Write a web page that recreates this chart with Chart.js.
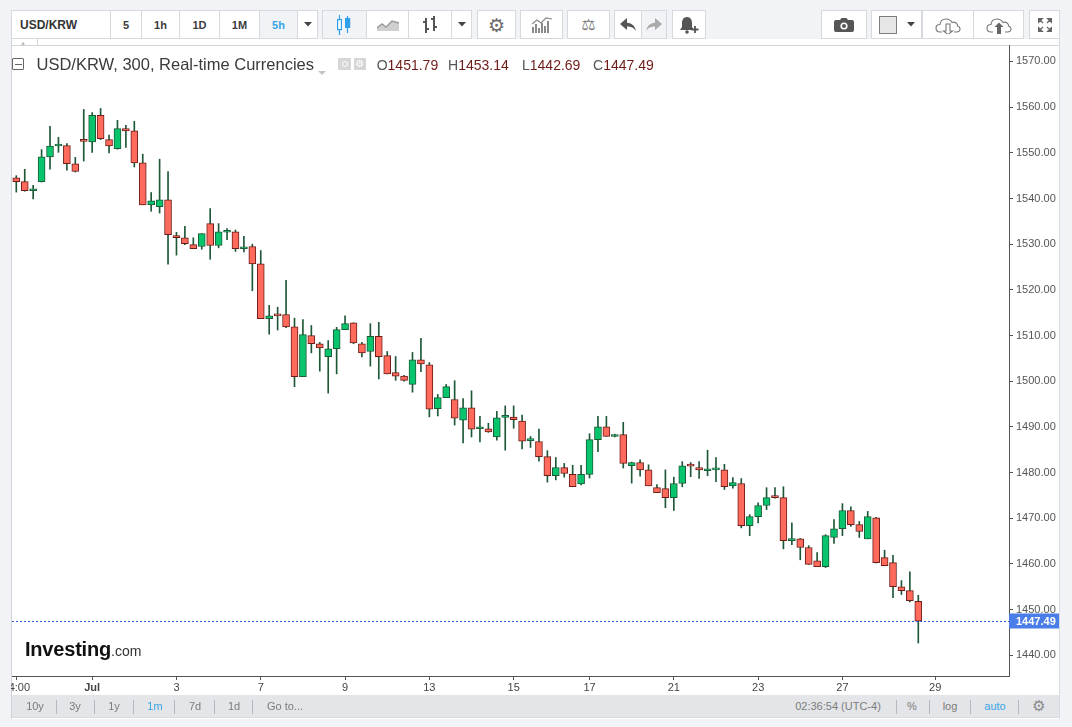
<!DOCTYPE html>
<html><head><meta charset="utf-8"><title>USD/KRW</title>
<script src="https://cdn.jsdelivr.net/npm/chart.js@4.4.1/dist/chart.umd.min.js"></script>
<style>
*{box-sizing:border-box}
html,body{margin:0;padding:0}
body{width:1072px;height:727px;overflow:hidden;position:relative;background:#f1f3f6;font-family:"Liberation Sans",Arial,sans-serif;color:#333}
.b{position:absolute;top:10px;height:29px;background:#fff;border:1px solid #d6dade;display:flex;align-items:center;justify-content:center;font-size:11px;font-weight:bold;color:#3c3c3c}
.on{background:#f1f3f6}
#panel{position:absolute;left:11px;top:39px;width:1049px;height:680px;background:#fff;border-left:1px solid #cfd3d8;border-right:1px solid #d8dbdf}
#topline{position:absolute;left:12px;top:45px;width:1047px;height:1px;background:#d2d5d9}
#wrap{position:absolute;left:11px;top:45px;width:1048px;height:650px}
#bottombar{position:absolute;left:12px;top:695px;width:1047px;height:23px;background:#e3e5e8;border-bottom:1px solid #d8dbdf}
.t{position:absolute;top:695px;height:23px;line-height:23px;font-size:11px;color:#7c7c7c;transform:translateX(-50%);white-space:nowrap}
.sep{position:absolute;top:700px;width:1px;height:14px;background:#b5b8bc}
#legend{position:absolute;left:0;top:0;width:700px;height:90px;pointer-events:none}
.lg{position:absolute;top:54px;line-height:20px;white-space:nowrap}
.ohlc{font-size:14px;color:#6e1c17}
.ohlc b{font-weight:normal;color:#555}
</style></head>
<body>
<!-- top toolbar -->
<div class="b" style="left:11px;width:100px;justify-content:flex-start;padding-left:8px;font-size:12px;color:#333">USD/KRW</div>
<div class="b" style="left:110px;width:32px">5</div>
<div class="b" style="left:141px;width:39px">1h</div>
<div class="b" style="left:179px;width:41px">1D</div>
<div class="b" style="left:219px;width:41px">1M</div>
<div class="b on" style="left:259px;width:39px;color:#3aa3e3">5h</div>
<div class="b" style="left:297px;width:21px"><svg width="8" height="5"><path d="M0 0h8l-4 4.5z" fill="#444"/></svg></div>

<div class="b on" style="left:322px;width:45px"><svg width="16" height="20" viewBox="0 0 16 20"><path d="M2.5 0v20M10.5 1v17" stroke="#2e9fe8" stroke-width="1.2"/><rect x="0.6" y="4.6" width="3.8" height="10" fill="#fff" stroke="#2e9fe8" stroke-width="1.2"/><rect x="8" y="3" width="5.2" height="10" fill="#2e9fe8"/></svg></div>
<div class="b" style="left:366px;width:43px"><svg width="22" height="13"><path d="M0 13V10L5 6L9 9L15 3L22 5V13Z" fill="#cfcfcf"/><path d="M0 10L5 6L9 9L15 3L22 5" fill="none" stroke="#9a9a9a" stroke-width="1.4"/></svg></div>
<div class="b" style="left:408px;width:44px"><svg width="16" height="20"><path d="M4 3v15M1 7h3M4 14h3M12 1v15M9 4h3M12 12h3" stroke="#555" stroke-width="2" fill="none"/></svg></div>
<div class="b" style="left:451px;width:21px"><svg width="8" height="5"><path d="M0 0h8l-4 4.5z" fill="#444"/></svg></div>
<div class="b" style="left:477px;width:39px;font-family:'DejaVu Sans';font-size:19px;color:#6a6a6a;font-weight:normal">⚙</div>
<div class="b" style="left:520px;width:43px"><svg width="20" height="16"><path d="M1 16V10M4 16V7M7 16V11M10 16V6M13 16V9M16 16V4" stroke="#8a8a8a" stroke-width="2"/><path d="M0 7L5 3L9 6L14 1L20 2" fill="none" stroke="#8a8a8a" stroke-width="1.2"/></svg></div>
<div class="b" style="left:567px;width:43px;font-family:'DejaVu Sans';font-size:16px;color:#777;font-weight:normal">⚖</div>
<div class="b" style="left:614px;width:28px"><svg width="16" height="13"><path d="M7 0L0 6L7 12V8.5C11 8.5 13.5 9.5 16 13C15 8 12 5.2 7 4.7Z" fill="#555"/></svg></div>
<div class="b on" style="left:641px;width:26px"><svg width="16" height="13"><path d="M9 0L16 6L9 12V8.5C5 8.5 2.5 9.5 0 13C1 8 4 5.2 9 4.7Z" fill="#aaa"/></svg></div>
<div class="b" style="left:672px;width:34px"><svg width="20" height="18"><path d="M8 1C4.5 1 3 4 3 7V11L1 14H15L13 11V7C13 4 11.5 1 8 1Z" fill="#555"/><circle cx="8" cy="16" r="1.8" fill="#555"/><path d="M16 10v7M12.5 13.5h7" stroke="#555" stroke-width="1.8"/></svg></div>

<div class="b" style="left:821px;width:46px"><svg width="20" height="15"><path d="M2 3H6L7.5 1H12.5L14 3H18Q20 3 20 5V13Q20 15 18 15H2Q0 15 0 13V5Q0 3 2 3Z" fill="#555"/><circle cx="10" cy="9" r="3.6" fill="#fff"/><circle cx="10" cy="9" r="2" fill="#555"/></svg></div>
<div class="b" style="left:871px;width:51px;justify-content:flex-start;padding-left:7px"><span style="display:inline-block;width:18px;height:18px;background:#e6e6e6;border:1px solid #7d7d7d"></span><svg width="8" height="5" style="margin-left:10px"><path d="M0 0h8l-4 4.5z" fill="#444"/></svg></div>
<div class="b" style="left:922px;width:52px"><svg width="26" height="18"><path d="M7 16H5Q1 16 1 12Q1 8.5 5 8.5Q5.5 3 11 3Q15 3 17 6.5Q19 5.5 21 7Q23 8.5 22.5 10Q25.5 11 25 13.5Q24.5 16 21.5 16H19" fill="none" stroke="#777" stroke-width="1.1"/><path d="M11 8V15H8.5L13 18.5L17.5 15H15V8Z" fill="#fff" stroke="#777" stroke-width="1.1"/></svg></div>
<div class="b" style="left:973px;width:51px"><svg width="26" height="18"><path d="M7 16H5Q1 16 1 12Q1 8.5 5 8.5Q5.5 3 11 3Q15 3 17 6.5Q19 5.5 21 7Q23 8.5 22.5 10Q25.5 11 25 13.5Q24.5 16 21.5 16H19" fill="none" stroke="#777" stroke-width="1.1"/><path d="M11 18V11H8.5L13 6.5L17.5 11H15V18Z" fill="#666"/></svg></div>
<div class="b" style="left:1029px;width:31px"><svg width="14" height="14"><path d="M0 0h5L0 5zM14 0v5L9 0zM0 14v-5L5 14zM14 14H9L14 9zM2 2l3 3M12 2l-3 3M2 12l3-3M12 12l-3-3" fill="#666" stroke="#666" stroke-width="1.2"/></svg></div>

<div id="panel"></div>
<div style="position:absolute;left:20px;top:40px;font-size:6px;color:#bbb">▲</div>
<div style="position:absolute;left:37px;top:39px;width:1px;height:6px;background:#d8dbdf"></div>
<div id="topline"></div>
<div id="bottombar"></div>

<div id="wrap"><canvas id="c"></canvas></div>

<!-- legend -->
<div id="legend">
  <div style="position:absolute;left:12px;top:58px;width:12px;height:12px;border:1px solid #666;border-radius:1px"></div>
  <div style="position:absolute;left:14.5px;top:63.5px;width:7px;height:1px;background:#666"></div>
  <div class="lg" style="left:36.5px;font-size:16.5px;color:#3b3b3b;top:53.5px">USD/KRW, 300, Real-time Currencies</div>
  <div style="position:absolute;left:318px;top:62px"><svg width="8" height="5"><path d="M0 0h8l-4 4z" fill="#c4c4c4"/></svg></div>
  <div style="position:absolute;left:338px;top:58px;width:13px;height:12px;background:#d6d6d6;border-radius:1px"></div>
  <div style="position:absolute;left:341.5px;top:61px;width:6px;height:6px;border:1.5px solid #fff;border-radius:50%"></div>
  <div style="position:absolute;left:354px;top:58px;width:12px;height:12px;background:#d6d6d6;border-radius:1px;color:#fff;font-family:'DejaVu Sans';font-size:10px;line-height:12px;text-align:center">⚙</div>
  <div class="lg ohlc" style="left:376.7px;top:55px"><b>O</b>1451.79</div>
  <div class="lg ohlc" style="left:448px;top:55px"><b>H</b>1453.14</div>
  <div class="lg ohlc" style="left:522px;top:55px"><b>L</b>1442.69</div>
  <div class="lg ohlc" style="left:593px;top:55px"><b>C</b>1447.49</div>
</div>

<!-- logo -->
<div style="position:absolute;left:25px;top:637px;white-space:nowrap;line-height:24px"><span style="font-size:20px;font-weight:bold;color:#111;letter-spacing:-0.2px">Investing</span><span style="font-size:14px;color:#333">.com</span></div>

<!-- bottom toolbar -->
<span class="t" style="left:35px">10y</span><span class="sep" style="left:55.5px"></span>
<span class="t" style="left:75px">3y</span><span class="sep" style="left:94px"></span>
<span class="t" style="left:114px">1y</span><span class="sep" style="left:132.5px"></span>
<span class="t" style="left:155px;color:#3aa3e3">1m</span><span class="sep" style="left:174px"></span>
<span class="t" style="left:195px">7d</span><span class="sep" style="left:213.5px"></span>
<span class="t" style="left:234px">1d</span><span class="sep" style="left:252px"></span>
<span class="t" style="left:285px">Go to...</span>
<span class="t" style="left:838px">02:36:54 (UTC-4)</span><span class="sep" style="left:895.5px"></span>
<span class="t" style="left:912px">%</span><span class="sep" style="left:928.5px"></span>
<span class="t" style="left:950px">log</span><span class="sep" style="left:969.5px"></span>
<span class="t" style="left:995px;color:#3aa3e3">auto</span><span class="sep" style="left:1018px"></span>
<span class="t" style="left:1039px;font-family:'DejaVu Sans';font-size:15px;color:#8a8a8a">⚙</span>

<script>
// ---- data (5h candles, USD/KRW) ----
const tickIndex  = [0, 9, 19, 29, 39, 49, 59, 68, 78, 88, 98, 109];
const tickLabels = ["14:00","Jul","3","7","9","13","15","17","21","23","27","29"];

const opens = [1544.5,1543.7,1541.7,1543.7,1549.1,1551.5,1551.6,1547.6,1552.7,1552.4,
1558.2,1552.9,1550.9,1555.3,1554.8,1547.8,1538.6,1538.2,1539.7,1531.9,
1531.4,1529.9,1529.5,1534.5,1529.7,1532.6,1532.7,1529.0,1529.5,1525.7,
1513.7,1514.4,1514.6,1511.9,1501.0,1510.0,1508.2,1505.4,1507.1,1511.3,
1512.8,1508.2,1506.5,1509.8,1505.6,1501.9,1501.1,1499.3,1504.7,1503.6,
1494.0,1496.4,1496.0,1491.5,1494.2,1489.6,1489.6,1487.8,1492.1,1492.15,
1491.3,1487.0,1486.8,1483.5,1479.3,1481.1,1479.6,1477.5,1479.6,1487.2,
1490.0,1487.9,1488.3,1481.5,1482.2,1480.6,1476.7,1476.5,1474.5,1477.6,
1481.5,1481.1,1480.4,1480.6,1480.6,1477.1,1477.6,1468.4,1470.35,1472.8,
1474.6,1474.5,1465.1,1465.5,1463.6,1460.7,1459.4,1465.8,1467.7,1471.7,
1468.6,1465.5,1470.1,1461.4,1460.3,1455.0,1454.15,1451.79];

const highs = [1545.0,1546.4,1542.9,1550.7,1555.8,1553.4,1552.0,1549.0,1559.5,1558.8,
1559.7,1553.9,1557.1,1556.0,1556.9,1549.7,1541.3,1548.6,1545.9,1532.6,
1533.9,1531.4,1532.3,1537.8,1534.5,1533.4,1533.1,1531.7,1530.0,1528.6,
1516.6,1516.2,1522.1,1513.8,1513.5,1512.2,1508.5,1508.9,1511.8,1514.3,
1512.8,1508.5,1512.6,1512.9,1506.5,1505.4,1501.3,1506.3,1509.4,1504.1,
1497.1,1499.3,1500.1,1496.2,1497.9,1492.3,1490.8,1493.4,1494.6,1494.6,
1492.6,1487.9,1489.5,1484.8,1483.3,1482.0,1481.6,1481.6,1488.5,1492.3,
1492.3,1488.4,1491.0,1482.3,1482.8,1481.7,1477.4,1480.6,1479.0,1482.4,
1482.2,1482.4,1484.9,1483.3,1481.8,1478.9,1478.7,1470.8,1473.4,1476.7,
1476.7,1476.9,1469.0,1465.6,1464.0,1462.5,1466.4,1469.7,1473.2,1472.5,
1469.3,1471.5,1470.2,1463.0,1461.9,1456.35,1458.3,1453.14];

const lows = [1541.4,1541.6,1539.9,1543.6,1546.4,1550.1,1546.2,1545.8,1548.2,1550.1,
1552.9,1550.0,1550.8,1551.2,1546.9,1538.6,1537.2,1536.8,1525.6,1527.6,
1529.9,1529.0,1528.9,1526.7,1529.2,1531.0,1528.4,1528.3,1519.8,1513.7,
1510.3,1511.2,1511.7,1498.8,1501.0,1506.2,1502.2,1497.4,1501.6,1511.3,
1508.2,1505.3,1503.3,1500.5,1501.6,1500.2,1500.0,1497.6,1502.1,1492.2,
1492.4,1496.4,1490.4,1486.5,1487.8,1486.7,1488.8,1487.1,1484.9,1489.7,
1485.2,1485.5,1482.5,1477.9,1478.4,1479.0,1476.9,1477.3,1478.8,1484.6,
1487.9,1487.8,1481.0,1477.7,1479.2,1477.1,1475.6,1472.3,1471.7,1476.9,
1479.1,1478.7,1479.3,1478.0,1476.3,1476.6,1467.9,1466.2,1469.0,1471.9,
1474.4,1463.3,1464.2,1460.9,1459.9,1459.4,1459.2,1464.5,1466.2,1468.2,
1465.8,1465.5,1460.2,1459.6,1452.6,1453.3,1451.7,1442.69];

const closes = [1543.7,1541.7,1542.1,1549.1,1551.5,1551.6,1547.6,1545.9,1552.5,1558.2,
1553.1,1551.5,1555.3,1554.8,1547.8,1538.6,1539.5,1539.7,1532.1,1531.4,
1530.1,1529.0,1532.3,1529.7,1532.7,1532.7,1529.0,1529.1,1525.7,1513.7,
1514.3,1514.3,1511.9,1501.0,1510.2,1508.2,1507.3,1507.1,1511.3,1512.6,
1508.4,1506.2,1509.8,1505.4,1501.6,1501.1,1500.2,1504.7,1503.8,1493.9,
1496.4,1498.8,1491.9,1494.2,1489.5,1489.7,1488.9,1492.0,1492.15,1491.6,
1486.9,1487.1,1483.5,1479.3,1481.1,1479.8,1476.9,1479.6,1487.2,1490.0,
1487.9,1488.3,1482.0,1482.2,1480.6,1477.1,1475.6,1474.5,1477.6,1481.5,
1481.4,1480.6,1480.6,1480.9,1476.9,1477.8,1468.4,1470.35,1472.8,1474.5,
1474.5,1465.1,1465.5,1463.6,1459.9,1459.4,1466.2,1467.7,1471.7,1468.6,
1467.1,1470.35,1460.3,1459.6,1455.0,1454.15,1451.95,1447.49];

// ---- view ----
const X_MIN = -0.51, X_MAX = 117.76;
const Y_MIN = 1435.47, Y_MAX = 1573.6;
const GREEN = '#08c46c', GREEN_D = '#1d5b37', RED = '#ff6a5c', RED_D = '#6d1d18', WICK = '#1f5838';

const idx = closes.map((_, i) => i);
const isUp = idx.map(i => closes[i] >= opens[i]);
const bodyData = idx.map(i => ({x: i, y: [opens[i], closes[i]]}));
const wickData = idx.map(i => ({x: i, y: [lows[i], highs[i]]}));

Chart.defaults.font.family = '"Liberation Sans", Arial, sans-serif';

const lastPrice = {
  id: 'lastPrice',
  afterDraw(chart) {
    const {ctx, chartArea: a, scales: {y}} = chart;
    const v = closes[closes.length - 1];
    const py = Math.round(y.getPixelForValue(v)) + 0.5;
    ctx.save();
    ctx.strokeStyle = '#2a5ff0'; ctx.lineWidth = 1; ctx.setLineDash([2, 2]);
    ctx.beginPath(); ctx.moveTo(a.left, py); ctx.lineTo(a.right, py); ctx.stroke();
    ctx.setLineDash([]);
    ctx.fillStyle = '#4a7de7';
    ctx.fillRect(a.right, py - 8, chart.width - a.right, 15);
    ctx.fillStyle = '#fff'; ctx.font = 'bold 11px "Liberation Sans", Arial';
    ctx.textBaseline = 'middle'; ctx.textAlign = 'left';
    ctx.fillText(v.toFixed(2), a.right + 7, py);
    ctx.restore();
  }
};

new Chart(document.getElementById('c'), {
  type: 'bar',
  data: {datasets: [
    {label: 'body', data: bodyData,
     backgroundColor: isUp.map(u => u ? GREEN : RED),
     borderColor: isUp.map(u => u ? GREEN_D : RED_D),
     borderWidth: 1, borderSkipped: false, barThickness: 7, minBarLength: 2,
     grouped: false, order: 1},
    {label: 'wick', data: wickData, backgroundColor: WICK, borderWidth: 0,
     barThickness: 1, grouped: false, order: 2}
  ]},
  options: {
    responsive: true, maintainAspectRatio: false, animation: false, events: [],
    layout: {padding: {left: 1, right: 0, top: 0, bottom: 0}},
    plugins: {legend: {display: false}, tooltip: {enabled: false}},
    scales: {
      x: {
        type: 'linear', position: 'bottom', min: X_MIN, max: X_MAX, offset: false,
        afterBuildTicks: s => { s.ticks = tickIndex.map(v => ({value: v})); },
        afterFit: s => { s.height = 19; s.paddingLeft = 0; s.paddingRight = 0; },
        ticks: {
          autoSkip: false, maxRotation: 0, minRotation: 0, padding: 1, color: '#444',
          font: c => ({size: 11, weight: tickLabels[c.index] === 'Jul' ? 'bold' : 'normal'}),
          callback: (v, i) => tickLabels[i]
        },
        grid: {offset: false, drawOnChartArea: false, drawTicks: true, tickLength: 4, color: '#555'},
        border: {display: true, color: '#555', width: 1}
      },
      y: {
        type: 'linear', position: 'right', min: Y_MIN, max: Y_MAX,
        afterFit: s => { s.width = 50; s.paddingTop = 0; s.paddingBottom = 0; },
        ticks: {stepSize: 10, includeBounds: false, autoSkip: false, padding: 3, color: '#555',
                font: {size: 11}, callback: v => v.toFixed(2)},
        grid: {drawOnChartArea: false, drawTicks: true, tickLength: 4, color: '#555'},
        border: {display: true, color: '#555', width: 1}
      }
    }
  },
  plugins: [lastPrice]
});
</script>
</body></html>
